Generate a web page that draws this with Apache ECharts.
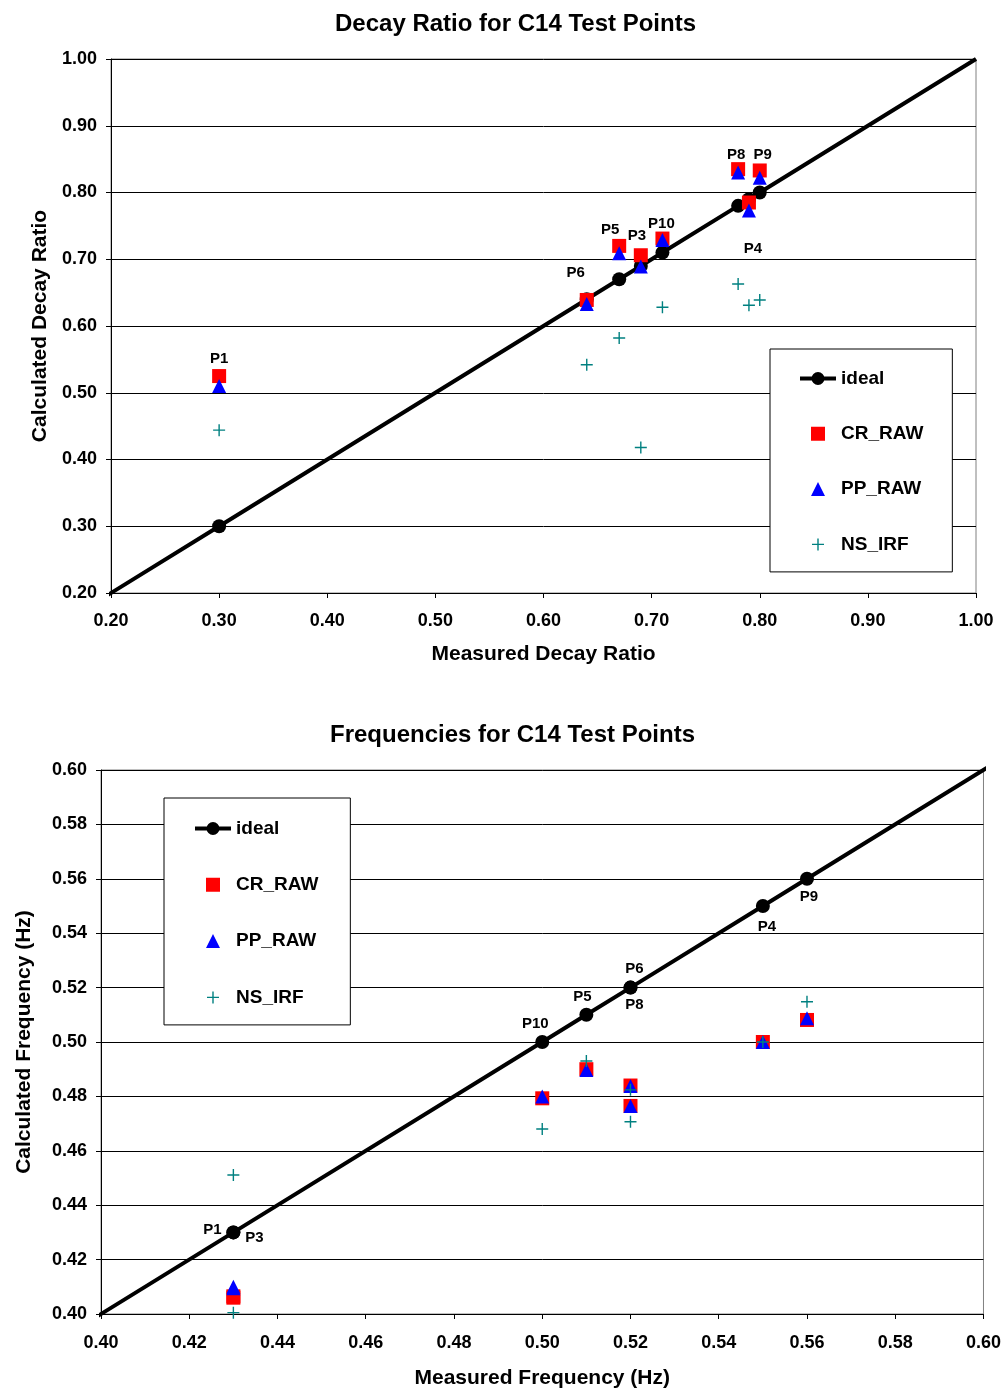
<!DOCTYPE html>
<html>
<head>
<meta charset="utf-8">
<script src="https://cdn.jsdelivr.net/npm/echarts@6/dist/echarts.min.js"></script>
<style>
  html, body { margin: 0; padding: 0; background: #fff; }
  #chart { width: 1004px; height: 1395px; }
</style>
</head>
<body>
<div id="chart"></div>
<script>
// ---- Decay ratio for C14 test points ----
const decayPoints   = ['P1', 'P6', 'P5', 'P3', 'P10', 'P8', 'P4', 'P9'];
const decayMeasured = [0.30, 0.64, 0.67, 0.69, 0.71, 0.78, 0.79, 0.80];
const decayCR       = [0.525, 0.639, 0.720, 0.706, 0.731, 0.835, 0.785, 0.833];
const decayPP       = [0.510, 0.633, 0.709, 0.689, 0.729, 0.830, 0.773, 0.822];
const decayNS       = [0.444, 0.542, 0.582, 0.418, 0.628, 0.663, 0.631, 0.639];
const decayIdealEnds = [0.195, 1.00];
const decayTicks    = [0.20, 0.30, 0.40, 0.50, 0.60, 0.70, 0.80, 0.90, 1.00];

// ---- Frequencies for C14 test points ----
const freqPoints   = ['P1', 'P3', 'P10', 'P5', 'P6', 'P8', 'P4', 'P9'];
const freqMeasured = [0.43, 0.43, 0.50, 0.51, 0.52, 0.52, 0.55, 0.56];
const freqCR       = [0.4065, 0.4060, 0.4793, 0.4900, 0.4840, 0.4765, 0.5000, 0.5081];
const freqPP       = [0.4095, 0.4100, 0.4800, 0.4897, 0.4838, 0.4765, 0.5000, 0.5087];
const freqNS       = [0.4511, 0.4005, 0.4680, 0.4930, 0.4824, 0.4707, 0.5000, 0.5148];
const freqIdealEnds = [0.3985, 0.62];
const freqTicks    = [0.40, 0.42, 0.44, 0.46, 0.48, 0.50, 0.52, 0.54, 0.56, 0.58, 0.60];

// point-name label placement (pixel offsets from the marker centre)
const decayLabelOffsets = [[0, -17], [-11, -27], [-9, -16], [-4, -19], [-1, -15], [-2, -14], [4, 46], [3, -16]];
const freqLabelOffsets  = [[-21, -3], [21, 5], [-7, -18], [-4, -18], [4, -19], [4, 17], [4, 21], [2, 18]];

const FONT = '"Liberation Sans", Arial, Helvetica, sans-serif';
const CROSS = 'path://M0,5.3H12V6.7H0Z M5.3,0H6.7V12H5.3Z';
const SERIES_NAMES = ['ideal', 'CR_RAW', 'PP_RAW', 'NS_IRF'];

// legend icons laid out in a 36x14 box so each marker keeps its proportions
const LEGEND_ICONS = {
  ideal:  'path://M0,0Z M36,14Z M0,5H36V9H0Z M11.5,7A6.5,6.5 0 1 1 24.5,7A6.5,6.5 0 1 1 11.5,7Z',
  CR_RAW: 'path://M0,0Z M36,14Z M11,0H25V14H11Z',
  PP_RAW: 'path://M0,0Z M36,14Z M18,0L25,14H11Z',
  NS_IRF: 'path://M0,0Z M36,14Z M12,6.3H24V7.7H12Z M17.3,1H18.7V13H17.3Z'
};

function pointLabel(name, offset) {
  return {
    show: true,
    formatter: name,
    position: 'inside',
    offset: offset,
    color: '#000',
    fontFamily: FONT,
    fontWeight: 'bold',
    fontSize: 15
  };
}

function idealData(measured, ends, names, offsets) {
  const items = [{ value: [ends[0], ends[0]], symbol: 'none' }];
  measured.forEach((m, i) => {
    const item = { value: [m, m] };
    if (names) item.label = pointLabel(names[i], offsets[i]);
    items.push(item);
  });
  items.push({ value: [ends[1], ends[1]], symbol: 'none' });
  return items;
}

function pairs(xs, ys, names, offsets) {
  return xs.map((x, i) => {
    const item = { value: [x, ys[i]] };
    if (names) item.label = pointLabel(names[i], offsets[i]);
    return item;
  });
}

function makeSeries(idx, measured, ends, cr, pp, ns, labelOn, names, offsets) {
  const common = { xAxisIndex: idx, yAxisIndex: idx, z: 2 };
  return [
    Object.assign({
      name: 'ideal', type: 'line',
      data: idealData(measured, ends, labelOn === 'ideal' ? names : null, offsets),
      symbol: 'circle', symbolSize: 14, clip: false,
      lineStyle: { color: '#000', width: 4 },
      itemStyle: { color: '#000', opacity: 1 }
    }, common),
    Object.assign({
      name: 'CR_RAW', type: 'scatter',
      data: pairs(measured, cr, labelOn === 'cr' ? names : null, offsets),
      symbol: 'rect', symbolSize: 14,
      itemStyle: { color: '#ff0000', opacity: 1 }
    }, common),
    Object.assign({
      name: 'PP_RAW', type: 'scatter',
      data: pairs(measured, pp),
      symbol: 'triangle', symbolSize: 14,
      itemStyle: { color: '#0000ff', opacity: 1 }
    }, common),
    Object.assign({
      name: 'NS_IRF', type: 'scatter',
      data: pairs(measured, ns),
      symbol: CROSS, symbolSize: 12,
      itemStyle: { color: '#008080', opacity: 1 }
    }, common)
  ];
}

function valueAxis(ticks, extra) {
  const interval = +(ticks[1] - ticks[0]).toFixed(4);
  return Object.assign({
    type: 'value',
    min: ticks[0],
    max: ticks[ticks.length - 1],
    interval: interval,
    axisLine: { show: true, lineStyle: { color: '#000', width: 1 } },
    axisTick: { show: true, inside: false, length: 5, lineStyle: { color: '#000' } },
    axisLabel: {
      formatter: v => v.toFixed(2),
      color: '#000', fontFamily: FONT, fontWeight: 'bold', fontSize: 18
    },
    nameLocation: 'middle',
    nameTextStyle: { color: '#000', fontFamily: FONT, fontWeight: 'bold', fontSize: 21 }
  }, extra);
}

function legend(left, top, padding, gap) {
  return {
    orient: 'vertical', left: left, top: top,
    data: SERIES_NAMES.map(n => ({ name: n, icon: LEGEND_ICONS[n] })),
    padding: padding,
    itemGap: gap,
    itemWidth: 36, itemHeight: 14,
    backgroundColor: '#fff',
    borderColor: '#000', borderWidth: 1,
    selectedMode: false,
    textStyle: { color: '#000', fontFamily: FONT, fontWeight: 'bold', fontSize: 19 }
  };
}

const titleStyle = { color: '#000', fontFamily: FONT, fontWeight: 'bold', fontSize: 24 };

const option = {
  animation: false,
  backgroundColor: '#fff',
  title: [
    { text: 'Decay Ratio for C14 Test Points', left: 335, top: 12, padding: 0, textStyle: titleStyle },
    { text: 'Frequencies for C14 Test Points', left: 330, top: 723, padding: 0, textStyle: titleStyle }
  ],
  legend: [
    legend(770, 349, [20, 29, 18, 30], 36.3),
    legend(164, 798, [21, 32, 18, 31], 37.3)
  ],
  grid: [
    { left: 111, right: 28, top: 59, height: 534, show: true, borderColor: '#808080', borderWidth: 1 },
    { left: 101, right: 19, top: 770, height: 544, show: true, borderColor: '#808080', borderWidth: 1 }
  ],
  xAxis: [
    valueAxis(decayTicks, {
      gridIndex: 0, name: 'Measured Decay Ratio', nameGap: 51,
      splitLine: { show: false },
      axisLabel: Object.assign(valueAxis(decayTicks).axisLabel, { margin: 19 })
    }),
    valueAxis(freqTicks, {
      gridIndex: 1, name: 'Measured Frequency (Hz)', nameGap: 54,
      splitLine: { show: false },
      axisLabel: Object.assign(valueAxis(freqTicks).axisLabel, { margin: 20 })
    })
  ],
  yAxis: [
    valueAxis(decayTicks, {
      gridIndex: 0, name: 'Calculated Decay Ratio', nameGap: 58,
      splitLine: { show: true, lineStyle: { color: '#000', width: 1 } },
      axisLabel: Object.assign(valueAxis(decayTicks).axisLabel, { margin: 14 })
    }),
    valueAxis(freqTicks, {
      gridIndex: 1, name: 'Calculated Frequency (Hz)', nameGap: 66,
      splitLine: { show: true, lineStyle: { color: '#000', width: 1 } },
      axisLabel: Object.assign(valueAxis(freqTicks).axisLabel, { margin: 14 })
    })
  ],
  series: [].concat(
    makeSeries(0, decayMeasured, decayIdealEnds, decayCR, decayPP, decayNS, 'cr', decayPoints, decayLabelOffsets),
    makeSeries(1, freqMeasured, freqIdealEnds, freqCR, freqPP, freqNS, 'ideal', freqPoints, freqLabelOffsets)
  )
};

const chart = echarts.init(document.getElementById('chart'), null, { renderer: 'canvas' });
chart.setOption(option);
</script>
</body>
</html>
